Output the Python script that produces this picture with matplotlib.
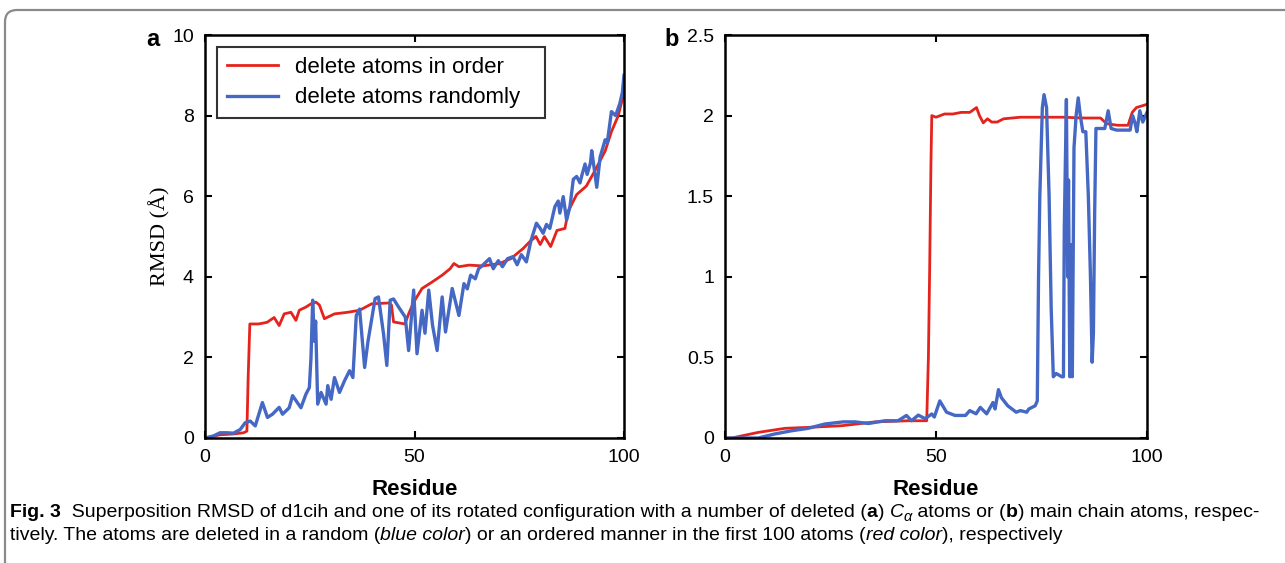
import matplotlib
matplotlib.use("Agg")
import matplotlib.pyplot as plt
from matplotlib.patches import FancyBboxPatch
from matplotlib.transforms import IdentityTransform

# ---------------- data ----------------
# panel a: C-alpha atoms
a_order_x = [0, 3.6, 6.8, 9.2, 10.0, 10.3, 10.7, 12.8, 14.8, 16.5, 17.7, 18.9, 20.5, 21.7, 22.5,
             24.1, 25.3, 26.5, 27.3, 28.5, 30.9, 34.1, 36.9, 39.8, 43.8, 44.5, 45.0, 47.7, 48.6,
             49.8, 51.8, 54.2, 56.6, 58.5, 59.4, 60.6, 63, 66.3, 70.3, 73, 75.9, 77.5, 79, 80,
             81, 82.5, 84, 85.9, 86.7, 88.7, 91, 93, 95.5, 97, 98.6, 99.7, 100]
a_order_y = [0, 0.08, 0.10, 0.13, 0.17, 1.5, 2.83, 2.83, 2.87, 2.99, 2.79, 3.08, 3.12, 2.92, 3.17,
             3.25, 3.33, 3.37, 3.30, 2.96, 3.08, 3.12, 3.17, 3.33, 3.35, 3.30, 2.88, 2.83, 3.08,
             3.37, 3.71, 3.87, 4.04, 4.20, 4.33, 4.25, 4.29, 4.27, 4.33, 4.45, 4.70, 4.87, 5.0, 4.8,
             5.0, 4.75, 5.15, 5.2, 5.63, 6.04, 6.25, 6.62, 7.12, 7.60, 7.99, 8.44, 8.55]

a_random_x = [0, 2, 3.6, 5.2, 6.8, 8.4, 9.6, 10.8, 12, 13.7, 14.9, 16.1, 17.7, 18.5, 20.1, 20.9,
              22.9, 24.1, 24.9, 25.3, 25.7, 26.1, 26.4, 26.9, 27.7, 28.9, 29.3, 30.1, 30.9, 32.1,
              33.3, 34.5, 35.3, 36.1, 36.9, 38.1, 38.9, 40.6, 41.4, 42.6, 43.4, 44.2, 45.0, 46.2,
              47.8, 48.6, 49.8, 50.6, 51.8, 52.5, 53.4, 54.3, 55.4, 56.6, 57.4, 59.0, 60.6, 61.8,
              62.6, 63.4, 64.5, 65.3, 66.3, 67.9, 68.8, 70, 71, 72.2, 73.5, 74.5, 75.5, 76.7, 77.8,
              79.1, 80, 80.7, 81.5, 82.3, 83.5, 84.3, 84.7, 85.5, 86.3, 87.1, 87.9, 88.7, 89.5,
              89.9, 90.7, 91.2, 92.0, 92.3, 93.5, 94.3, 95.5, 96, 97, 98, 99, 99.6, 100]
a_random_y = [0, 0.05, 0.13, 0.13, 0.12, 0.21, 0.38, 0.42, 0.30, 0.88, 0.51, 0.59, 0.76, 0.59, 0.75,
              1.05, 0.75, 1.09, 1.25, 2.0, 3.42, 2.4, 2.9, 0.84, 1.13, 0.84, 1.30, 0.96, 1.50, 1.13,
              1.42, 1.67, 1.50, 3.04, 3.20, 1.75, 2.40, 3.46, 3.50, 2.59, 1.80, 3.42, 3.45, 3.25,
              3.0, 2.17, 3.67, 2.09, 3.17, 2.60, 3.67, 2.80, 2.17, 3.50, 2.63, 3.71, 3.04, 3.83,
              3.70, 4.04, 3.95, 4.20, 4.29, 4.45, 4.20, 4.40, 4.25, 4.45, 4.50, 4.30, 4.55, 4.37, 4.90,
              5.33, 5.20, 5.08, 5.30, 5.20, 5.74, 5.88, 5.58, 5.99, 5.41, 5.74, 6.42, 6.49, 6.33,
              6.50, 6.80, 6.54, 6.83, 7.13, 6.22, 6.97, 7.40, 7.32, 8.10, 8.00, 8.30, 8.57, 9.0]

# panel b: main chain atoms
b_order_x = [0, 1.6, 7.9, 14.2, 19.7, 27.6, 35.5, 43.4, 47.8, 48.2, 48.5, 48.8, 49.0, 50, 52, 54,
             56, 58, 59.6, 60.3, 61.2, 62.2, 63.2, 64.5, 66, 70, 75, 80, 85, 89, 90.4, 93, 95.5,
             96.5, 97.5, 100]
b_order_y = [0, 0.0, 0.035, 0.06, 0.066, 0.076, 0.10, 0.107, 0.107, 0.5, 1.05, 1.7, 2.0, 1.99, 2.01,
             2.01, 2.02, 2.02, 2.05, 2.0, 1.955, 1.98, 1.96, 1.96, 1.98, 1.99, 1.99, 1.99, 1.985,
             1.985, 1.95, 1.94, 1.94, 2.02, 2.05, 2.07]

b_random_x = [0, 4.7, 7.9, 11.8, 15.8, 19.7, 23.7, 28, 30.8, 34, 37.9, 41, 43, 44.2, 45.8, 47.4,
              49, 49.6, 50.9, 52.5, 54.5, 57, 58, 59.5, 60.5, 62, 63.5, 64, 64.8, 65.5, 67, 69,
              70, 71.5, 72, 73.5, 74, 74.3, 74.6, 75.2, 75.6, 76.2, 76.8, 77.3, 77.8, 78.5, 79.8,
              80.2, 80.4, 80.9, 81.2, 81.4, 81.7, 82.0, 82.3, 82.7, 83.2, 83.7, 84.2, 84.8, 85.5,
              86.1, 86.6, 87.0, 87.3, 87.6, 87.9, 90, 90.8, 91.5, 92.8, 96, 96.6, 97.2, 97.6, 98.3,
              99, 100]
b_random_y = [0, 0.0, 0.0, 0.025, 0.045, 0.06, 0.087, 0.10, 0.10, 0.09, 0.107, 0.107, 0.14, 0.107,
              0.142, 0.12, 0.149, 0.13, 0.23, 0.16, 0.14, 0.14, 0.17, 0.15, 0.19, 0.15, 0.22, 0.18,
              0.30, 0.25, 0.20, 0.16, 0.17, 0.16, 0.18, 0.20, 0.23, 1.0, 1.5, 2.05, 2.13, 2.05, 1.5,
              0.8, 0.38, 0.40, 0.38, 0.38, 1.3, 2.1, 1.0, 1.6, 0.38, 1.2, 0.38, 1.8, 2.0, 2.11, 2.0,
              1.9, 1.9, 1.5, 1.0, 0.47, 0.65, 1.4, 1.92, 1.92, 2.03, 1.92, 1.91, 1.91, 2.0, 1.95,
              1.9, 2.03, 1.96, 2.02]

legend_labels = ["delete atoms in order", "delete atoms randomly"]
a_yticks = [0, 2, 4, 6, 8, 10]
b_yticks = [0, 0.5, 1, 1.5, 2, 2.5]
b_yticklabels = ["0", "0.5", "1", "1.5", "2", "2.5"]
xticks = [0, 50, 100]

RED = "#e5231d"
BLUE = "#4468c3"

W, H = 1285, 563
plt.rcParams["font.family"] = ["Liberation Sans", "DejaVu Sans"]
fig = plt.figure(figsize=(W / 100, H / 100), dpi=100)

# rounded outer frame
frame = FancyBboxPatch((5, -30), 1320, 553 + 30, boxstyle="round,pad=0,rounding_size=12",
                       transform=IdentityTransform(), facecolor="none", edgecolor="#8a8a8a",
                       linewidth=1.6)
fig.patches.append(frame)


def frac(x0, y0, x1, y1):
    return [x0 / W, 1 - y1 / H, (x1 - x0) / W, (y1 - y0) / H]


def style_axes(ax):
    for s in ax.spines.values():
        s.set_linewidth(1.8)
    ax.tick_params(direction="in", top=True, right=True, length=5, width=1.5,
                   labelsize=14, pad=8)


axa = fig.add_axes(frac(205, 35, 624, 438))
axa.plot(a_order_x, a_order_y, color=RED, lw=2.0, label=legend_labels[0])
axa.plot(a_random_x, a_random_y, color=BLUE, lw=2.4, label=legend_labels[1])
axa.set_xlim(0, 100)
axa.set_ylim(0, 10)
axa.set_xticks(xticks)
axa.set_yticks(a_yticks)
style_axes(axa)
axa.set_xlabel("Residue", fontsize=16, fontweight="bold", labelpad=9)
axa.set_ylabel("RMSD (Å)", fontsize=16, family="Liberation Serif", labelpad=1)
leg_w = (545 - 217) / 419
leg_h = (117 - 47) / 403
leg = axa.legend(loc="upper left", bbox_to_anchor=(0.029, 0.97 - leg_h, leg_w, leg_h),
                 mode="expand", borderaxespad=0,
                 fontsize=16, frameon=True, fancybox=False, handlelength=2.3,
                 handletextpad=0.75, borderpad=0.45, labelspacing=0.42)
leg.get_frame().set_edgecolor("black")
leg.get_frame().set_linewidth(1.5)

axb = fig.add_axes(frac(725, 35, 1147, 438))
axb.plot(b_order_x, b_order_y, color=RED, lw=2.0)
axb.plot(b_random_x, b_random_y, color=BLUE, lw=2.4)
axb.set_xlim(0, 100)
axb.set_ylim(0, 2.5)
axb.set_xticks(xticks)
axb.set_yticks(b_yticks)
axb.set_yticklabels(b_yticklabels)
style_axes(axb)
axb.set_xlabel("Residue", fontsize=16, fontweight="bold", labelpad=9)

fig.text(153 / W, 1 - 40 / H, "a", fontsize=17, fontweight="bold", ha="center", va="center")
fig.text(672 / W, 1 - 40 / H, "b", fontsize=17, fontweight="bold", ha="center", va="center")

# caption with mixed styles
cap_family = ["Liberation Sans", "DejaVu Sans"]
CAP_FS = 14.0
renderer = fig.canvas.get_renderer()


def draw_line(x, y, pieces):
    for txt, kw in pieces:
        dy = kw.pop("dy", 0)
        fs = kw.pop("fs", CAP_FS)
        t = fig.text(x / W, 1 - (y + dy) / H, txt, fontsize=fs, family=cap_family,
                     va="baseline", ha="left", **kw)
        x += t.get_window_extent(renderer).width
    return x


line1 = [("Fig. 3", dict(fontweight="bold")),
         ("  Superposition RMSD of d1cih and one of its rotated configuration with a number of deleted (", {}),
         ("a", dict(fontweight="bold")),
         (") ", {}),
         ("C", dict(style="italic")),
         ("α", dict(style="italic", fs=CAP_FS * 0.75, dy=4)),
         (" atoms or (", {}),
         ("b", dict(fontweight="bold")),
         (") main chain atoms, respec-", {})]
line2 = [("tively. The atoms are deleted in a random (", {}),
         ("blue color", dict(style="italic")),
         (") or an ordered manner in the first 100 atoms (", {}),
         ("red color", dict(style="italic")),
         ("), respectively", {})]
draw_line(10, 517, line1)
draw_line(10, 540, line2)

fig.savefig("out.png", dpi=100)
